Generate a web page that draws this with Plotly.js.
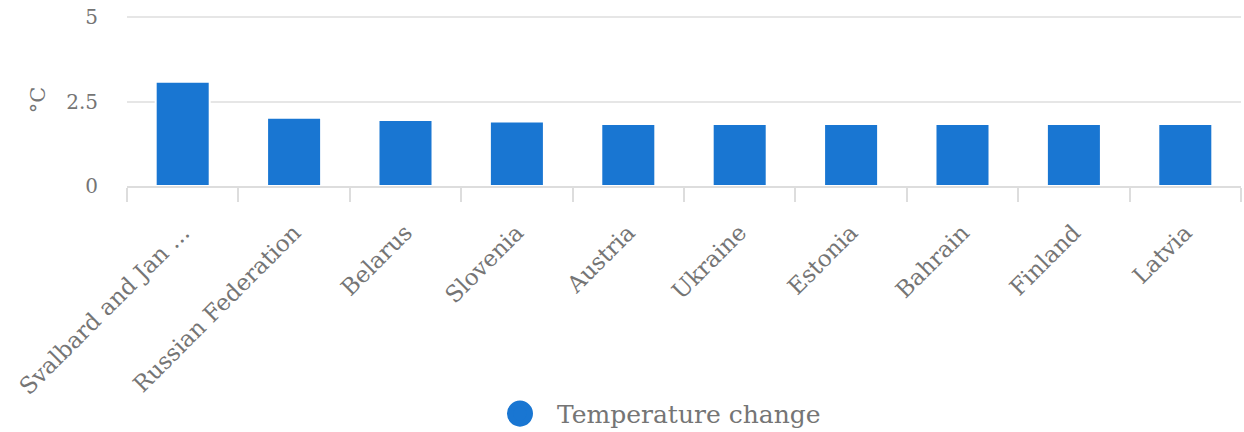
<!DOCTYPE html>
<html>
<head>
<meta charset="utf-8">
<script src="https://cdn.plot.ly/plotly-3.0.1.min.js"></script>
<style>html,body{margin:0;padding:0;background:#fff;}#chart{width:1244px;height:432px;}</style>
</head>
<body>
<div id="chart"></div>
<script>
const categories = ["Svalbard and Jan ...", "Russian Federation", "Belarus", "Slovenia", "Austria", "Ukraine", "Estonia", "Bahrain", "Finland", "Latvia"];
const values = [3.09, 2.02, 1.96, 1.91, 1.84, 1.84, 1.84, 1.84, 1.84, 1.84];
const seriesName = "Temperature change";
const yTicks = [0, 2.5, 5];
const yTickText = ["0", "2.5", "5"];

const blue = "#1976D2";
const gray = "#757575";
const font = "DejaVu Serif";

const traces = [
  {
    type: "bar",
    x: categories,
    y: values,
    marker: {color: blue, line: {color: "#ffffff", width: 2}},
    showlegend: false,
    hoverinfo: "x+y"
  },
  {
    type: "scatter",
    mode: "markers",
    x: [null],
    y: [null],
    name: seriesName,
    marker: {color: blue, symbol: "circle", size: 16, line: {color: blue, width: 5}},
    showlegend: true
  }
];

const layout = {
  width: 1244,
  height: 432,
  margin: {l: 127, r: 3, t: 14, b: 246},
  paper_bgcolor: "#ffffff",
  plot_bgcolor: "#ffffff",
  font: {family: font, color: gray, size: 19},
  bargap: 0.515,
  xaxis: {
    type: "category",
    automargin: false,
    tickangle: -45,
    tickson: "boundaries",
    ticks: "outside",
    ticklen: 14,
    tickcolor: "#dddddd",
    tickwidth: 2,
    ticklabelstandoff: 22,
    showgrid: false,
    showline: true,
    linecolor: "#dddddd",
    linewidth: 2,
    tickfont: {family: font, color: gray, size: 23},
    fixedrange: true
  },
  yaxis: {
    automargin: false,
    range: [0, 5.1],
    tickvals: yTicks,
    ticktext: yTickText,
    showgrid: true,
    gridcolor: "#e6e6e6",
    gridwidth: 2,
    zeroline: false,
    showline: false,
    ticks: "",
    ticklabelstandoff: 28,
    tickfont: {family: font, color: gray, size: 20},
    title: {text: "°C", font: {family: font, color: gray, size: 21}, standoff: 14},
    fixedrange: true
  },
  showlegend: true,
  legend: {
    orientation: "h",
    x: 0.4735,
    xanchor: "center",
    yref: "container",
    y: 0.042,
    yanchor: "middle",
    itemwidth: 64,
    font: {family: font, color: gray, size: 25}
  }
};

Plotly.newPlot("chart", traces, layout, {displayModeBar: false}).then(function (gd) {
  gd.querySelectorAll(".legendpoints path.scatterpts").forEach(function (p) {
    const t = p.getAttribute("transform") || "";
    p.setAttribute("transform", t + " scale(1.24)");
  });
});
</script>
</body>
</html>
